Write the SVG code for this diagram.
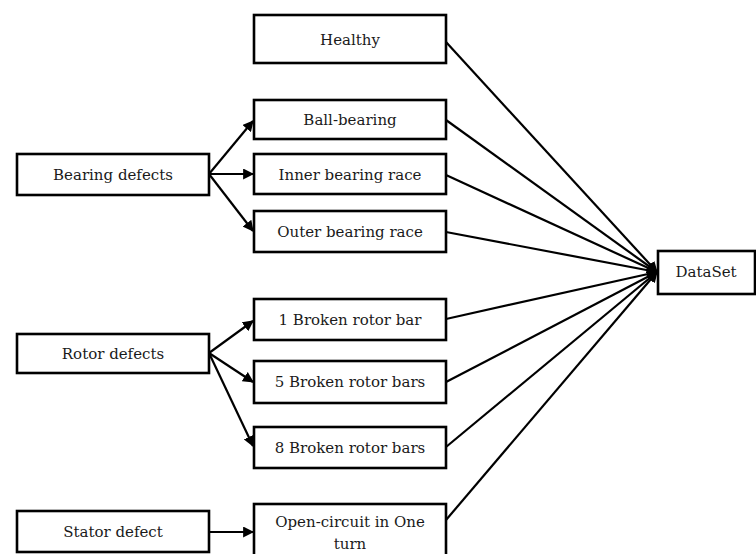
<svg xmlns="http://www.w3.org/2000/svg" width="756" height="554" viewBox="0 0 756 554">
<style>
.box{fill:#fff;stroke:#000;stroke-width:2.6}
.t{font-family:"DejaVu Serif","Liberation Serif",serif;font-size:15px;fill:#1a1a1a;text-anchor:middle}
.c{stroke:#000;stroke-width:2.2;fill:none}
</style>
<defs>
<marker id="ah" viewBox="0 0 10 10" refX="9" refY="5" markerWidth="5" markerHeight="5" orient="auto" markerUnits="strokeWidth">
<path d="M0,0 L10,5 L0,10 z" fill="#000"/>
</marker>
</defs>
<rect width="756" height="554" fill="#fff"/>
<g id="connectors">
<line class="c" x1="209" y1="174" x2="253" y2="121" marker-end="url(#ah)"/>
<line class="c" x1="209" y1="174" x2="253" y2="174" marker-end="url(#ah)"/>
<line class="c" x1="209" y1="174" x2="253" y2="231" marker-end="url(#ah)"/>
<line class="c" x1="209" y1="353" x2="253" y2="321" marker-end="url(#ah)"/>
<line class="c" x1="209" y1="353" x2="253" y2="382" marker-end="url(#ah)"/>
<line class="c" x1="209" y1="353" x2="253" y2="446" marker-end="url(#ah)"/>
<line class="c" x1="209" y1="532" x2="253" y2="532" marker-end="url(#ah)"/>
<line class="c" x1="446" y1="42" x2="657" y2="272" marker-end="url(#ah)"/>
<line class="c" x1="446" y1="120" x2="657" y2="272" marker-end="url(#ah)"/>
<line class="c" x1="446" y1="175" x2="657" y2="272" marker-end="url(#ah)"/>
<line class="c" x1="446" y1="232" x2="657" y2="272" marker-end="url(#ah)"/>
<line class="c" x1="446" y1="319" x2="657" y2="272" marker-end="url(#ah)"/>
<line class="c" x1="446" y1="382" x2="657" y2="272" marker-end="url(#ah)"/>
<line class="c" x1="446" y1="447" x2="657" y2="272" marker-end="url(#ah)"/>
<line class="c" x1="446" y1="520" x2="657" y2="272" marker-end="url(#ah)"/>
</g>
<g id="healthy"><rect class="box" x="254" y="15" width="192" height="48"/><text class="t" x="350" y="45">Healthy</text></g>
<g id="ball"><rect class="box" x="254" y="100" width="192" height="39"/><text class="t" x="350" y="125">Ball-bearing</text></g>
<g id="inner"><rect class="box" x="254" y="154" width="192" height="40"/><text class="t" x="350" y="180">Inner bearing race</text></g>
<g id="outer"><rect class="box" x="254" y="211" width="192" height="41"/><text class="t" x="350" y="237">Outer bearing race</text></g>
<g id="rotor1"><rect class="box" x="254" y="299" width="192" height="41"/><text class="t" x="350" y="325">1 Broken rotor bar</text></g>
<g id="rotor5"><rect class="box" x="254" y="361" width="192" height="42"/><text class="t" x="350" y="387">5 Broken rotor bars</text></g>
<g id="rotor8"><rect class="box" x="254" y="427" width="192" height="41"/><text class="t" x="350" y="453">8 Broken rotor bars</text></g>
<g id="open"><rect class="box" x="254" y="504" width="192" height="52"/><text class="t" x="350" y="527">Open-circuit in One</text><text class="t" x="350" y="549">turn</text></g>
<g id="bearing"><rect class="box" x="17" y="154" width="192" height="41"/><text class="t" x="113" y="180">Bearing defects</text></g>
<g id="rotor"><rect class="box" x="17" y="334" width="192" height="39"/><text class="t" x="113" y="359">Rotor defects</text></g>
<g id="stator"><rect class="box" x="17" y="511" width="192" height="41"/><text class="t" x="113" y="537">Stator defect</text></g>
<g id="dataset"><rect class="box" x="658" y="251" width="97" height="43"/><text class="t" x="706" y="277">DataSet</text></g>
</svg>
